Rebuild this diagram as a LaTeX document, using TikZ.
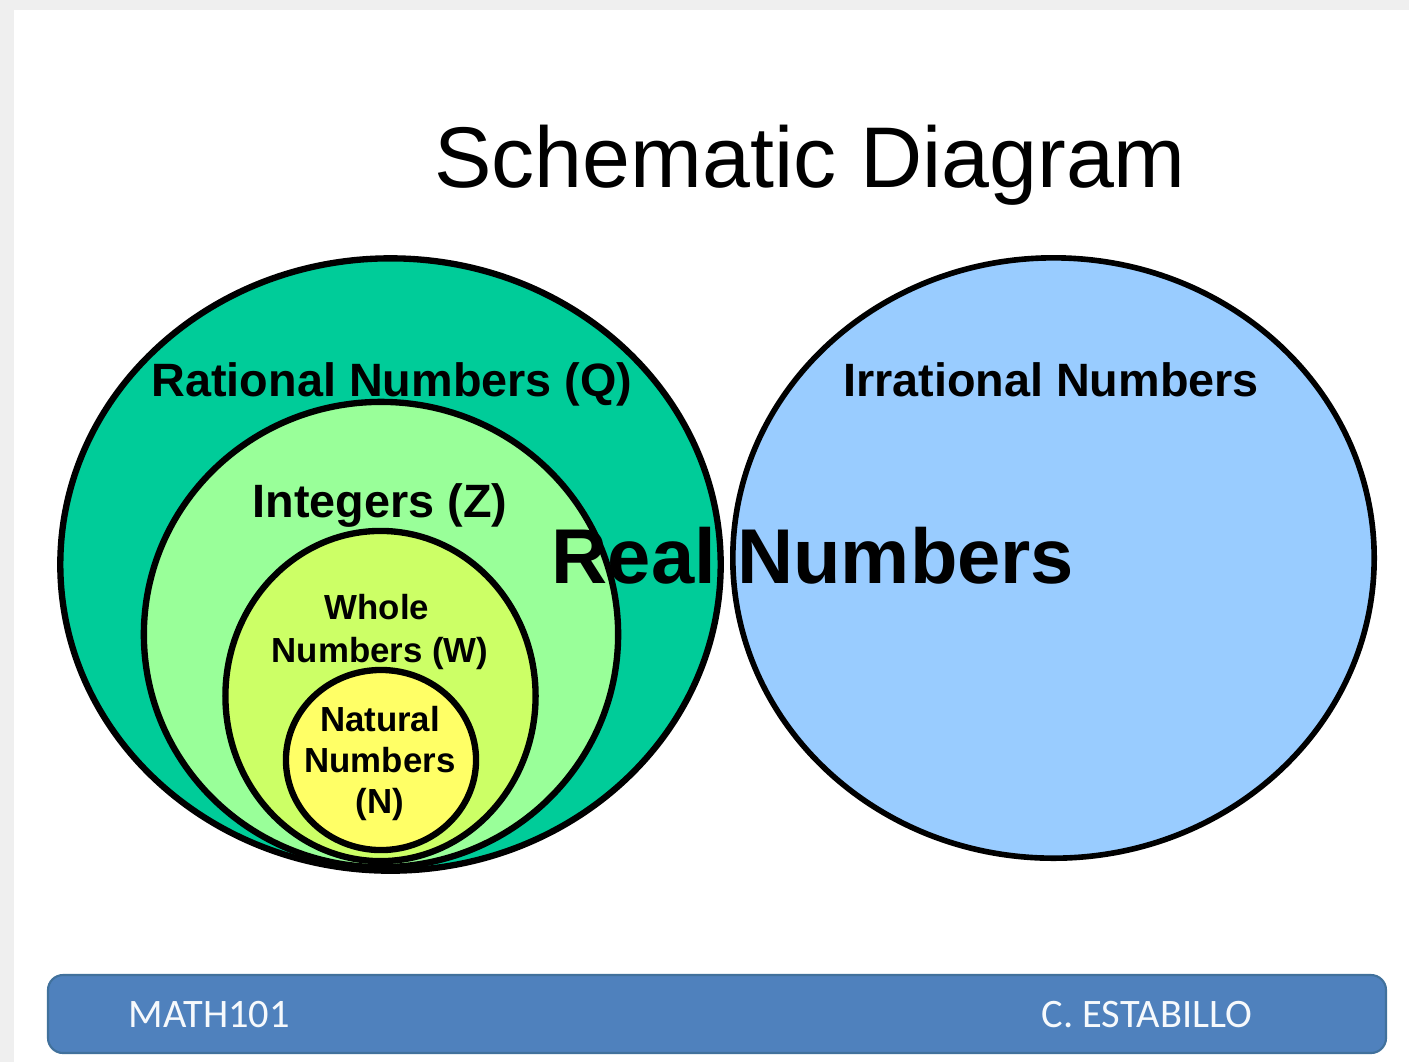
\documentclass[tikz,border=0pt]{standalone}
\usepackage{fontspec}
\setmainfont{Liberation Sans}
\newfontfamily\calib{Carlito}
\definecolor{ratc}{HTML}{00CC99}
\definecolor{intc}{HTML}{99FF99}
\definecolor{wholec}{HTML}{CCFF66}
\definecolor{natc}{HTML}{FFFF66}
\definecolor{irrc}{HTML}{99CCFF}
\definecolor{barc}{HTML}{4F81BD}
\definecolor{barline}{HTML}{41719C}
\definecolor{edgec}{HTML}{EFEFEF}
\begin{document}
\begin{tikzpicture}[x=0.01cm,y=-0.01cm,
  setring/.style={draw=black,line width=1.8pt},
  biglabel/.style={font=\bfseries\fontsize{13.3pt}{15pt}\selectfont,inner sep=0pt,anchor=base},
  smalllabel/.style={font=\bfseries\fontsize{9.9pt}{12pt}\selectfont,inner sep=0pt,anchor=base},
  bartext/.style={font=\calib\fontsize{11.5pt}{13pt}\selectfont,text=white!95!barc,inner sep=0pt,anchor=base}]
\useasboundingbox (0,0) rectangle (1409,1062);
\fill[edgec] (0,0) rectangle (1409,1062);
\fill[white] (14,10) rectangle (1409,1062);
% title
\node[font=\fontsize{24.5pt}{29pt}\selectfont,inner sep=0pt,anchor=base] (title) at (810,187) {Schematic Diagram};
% nested sets
\draw[setring,fill=ratc] (390.5,564.5) ellipse [x radius=3.30cm, y radius=3.06cm];
\draw[setring,fill=intc] (381,634.5) ellipse [x radius=2.37cm, y radius=2.325cm];
\draw[setring,fill=wholec] (380.5,696) ellipse [x radius=1.55cm, y radius=1.65cm];
\draw[setring,fill=natc] (381,760) ellipse [x radius=0.95cm, y radius=0.90cm];
\draw[draw=black,line width=1.6pt,fill=irrc] (1053.5,558) ellipse [x radius=3.205cm, y radius=3.0cm];
% labels
\node[biglabel] (rational) at (392,396) {Rational Numbers (Q)};
\node[biglabel] (integers) at (380,517) {Integers (Z)};
\node[smalllabel] (whole1) at (377,619) {Whole};
\node[smalllabel] (whole2) at (380,662) {Numbers (W)};
\node[smalllabel] (nat1) at (380,731) {Natural};
\node[smalllabel] (nat2) at (380,772) {Numbers};
\node[smalllabel] (nat3) at (380,813) {(N)};
\node[biglabel] (irrational) at (1051,396) {Irrational Numbers};
\node[font=\bfseries\fontsize{22.1pt}{26pt}\selectfont,inner sep=0pt,anchor=base] (real) at (813,583) {Real Numbers};
% footer bar
\draw[fill=barc,draw=barline,line width=0.6pt,rounded corners=0.15cm] (48,975) rectangle (1386,1053);
\node[bartext,anchor=base west] (course) at (128,1027) {MATH101};
\node[bartext,anchor=base east] (author) at (1253,1027) {C. ESTABILLO};
\end{tikzpicture}
\end{document}
